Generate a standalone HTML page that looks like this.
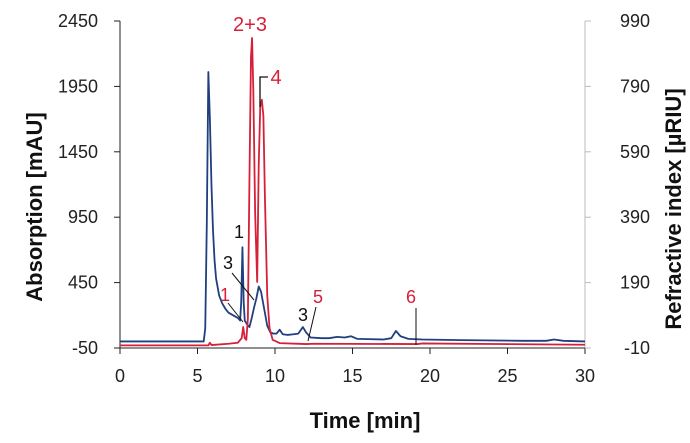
<!DOCTYPE html>
<html><head><meta charset="utf-8"><style>
body{margin:0;background:#fff}
svg text{font-family:"Liberation Sans",Arial,sans-serif}
</style></head><body>
<svg id="chart" width="690" height="438" viewBox="0 0 690 438" xmlns="http://www.w3.org/2000/svg">
<g id="axes"></g>
<g id="series"></g>
<g id="annot">
 <text x="250" y="31" fill="#d6203a" font-size="20" text-anchor="middle">2+3</text>
 <text x="276" y="84" fill="#d6203a" font-size="20" text-anchor="middle">4</text>
 <polyline points="268,77 260,77 260,107" fill="none" stroke="#111" stroke-width="1.3"/>
 <text x="239" y="238" fill="#111" font-size="18" text-anchor="middle">1</text>
 <text x="228" y="269" fill="#111" font-size="18" text-anchor="middle">3</text>
 <line x1="232" y1="273" x2="254" y2="300" stroke="#111" stroke-width="1"/>
 <text x="225" y="301" fill="#d6203a" font-size="18" text-anchor="middle">1</text>
 <line x1="228" y1="303" x2="243" y2="322" stroke="#111" stroke-width="1"/>
 <text x="303" y="321" fill="#111" font-size="18" text-anchor="middle">3</text>
 <text x="318" y="303" fill="#d6203a" font-size="18" text-anchor="middle">5</text>
 <line x1="316" y1="307" x2="308" y2="341" stroke="#111" stroke-width="1"/>
 <text x="411" y="303" fill="#d6203a" font-size="18" text-anchor="middle">6</text>
 <line x1="416" y1="308" x2="416" y2="345" stroke="#111" stroke-width="1"/>
</g>
</svg>
<script>
const xTicks=[0,5,10,15,20,25,30];
const leftTicks=[-50,450,950,1450,1950,2450];
const rightTicks=[-10,190,390,590,790,990];
const uvTime=[0,5.4,5.5,5.6,5.7,5.8,5.9,6.0,6.1,6.2,6.4,6.6,6.8,7.0,7.3,7.6,7.75,7.82,7.9,7.98,8.05,8.2,8.35,8.5,8.65,8.8,8.95,9.1,9.3,9.5,9.7,9.9,10.1,10.3,10.5,10.8,11.2,11.5,11.8,12.0,12.3,13,13.5,14.0,14.5,14.9,15.3,16,17,17.5,17.8,18.1,18.6,19.5,22,26,27.5,28,28.6,30];
const uvValue=[0,0,100,900,2060,1700,1200,850,620,480,350,290,250,220,200,180,160,300,720,300,160,130,110,180,260,330,420,380,250,120,70,60,60,90,55,50,55,60,110,70,30,25,25,35,30,40,20,18,15,25,80,40,20,15,10,5,5,15,5,0];
const riTime=[0,5.7,5.8,5.9,7.0,7.6,7.85,7.95,8.05,8.15,8.25,8.35,8.45,8.52,8.6,8.72,8.85,8.95,9.05,9.15,9.25,9.35,9.5,9.65,9.85,10.3,12,12.5,19.2,19.5,30];
const riValue=[-2,-2,6,-1,3,6,20,54,20,15,80,500,880,938,780,400,192,550,730,749,700,450,150,50,15,5,2,3,2,4,0];

const X0=120,X1=585,Y0=348,Y1=21;
const xs=t=>X0+(t-0)/(30-0)*(X1-X0);
const yl=v=>Y0-(v+50)/2500*(Y0-Y1);
const yr=v=>Y0-(v+10)/1000*(Y0-Y1);
const NS="http://www.w3.org/2000/svg";
function mk(tag,attrs,parent){const e=document.createElementNS(NS,tag);for(const k in attrs)e.setAttribute(k,attrs[k]);parent.appendChild(e);return e;}
const ax=document.getElementById('axes');
let e;
e=mk('line',{x1:X0,y1:Y1,x2:X0,y2:Y0,stroke:'#222','stroke-width':1},ax);


e=mk('line',{x1:X1,y1:Y1,x2:X1,y2:Y0,stroke:'#bbb','stroke-width':1},ax);


e=mk('line',{x1:X0,y1:Y0,x2:X1,y2:Y0,stroke:'#222','stroke-width':1},ax);


xTicks.forEach(t=>{
 const l=mk('line',{x1:xs(t),y1:Y0,x2:xs(t),y2:Y0+6,stroke:'#222'},ax);
 
 
 const tx=mk('text',{x:xs(t),y:Y0+34,'font-size':18,fill:'#222','text-anchor':'middle'},ax);tx.textContent=t;
 
 
});
leftTicks.forEach(v=>{
 const l=mk('line',{x1:X0-6,y1:yl(v),x2:X0,y2:yl(v),stroke:'#222'},ax);
 
 
 const tx=mk('text',{x:X0-22,y:yl(v)+6,'font-size':18,fill:'#222','text-anchor':'end'},ax);tx.textContent=v;
 
 
});
rightTicks.forEach(v=>{
 const l=mk('line',{x1:X1,y1:yr(v),x2:X1+6,y2:yr(v),stroke:'#bbb'},ax);
 
 
 const tx=mk('text',{x:X1+65,y:yr(v)+6,'font-size':18,fill:'#222','text-anchor':'end'},ax);tx.textContent=v;
 
 
});
let t1=mk('text',{x:0,y:0,'font-size':22,'font-weight':'bold',fill:'#111','text-anchor':'middle',transform:'translate(42,207) rotate(-90)'},ax);
t1.textContent='Absorption [mAU]';


let t2=mk('text',{x:0,y:0,'font-size':22,'font-weight':'bold',fill:'#111','text-anchor':'middle',transform:'translate(681,209) rotate(-90)'},ax);
t2.textContent='Refractive index [µRIU]';


let t3=mk('text',{x:365,y:428,'font-size':22,'font-weight':'bold',fill:'#111','text-anchor':'middle'},ax);
t3.textContent='Time [min]';



const sg=document.getElementById('series');
const p1=mk('polyline',{points:uvTime.map((t,i)=>xs(t)+','+yl(uvValue[i])).join(' '),fill:'none',stroke:'#1f3f7f','stroke-width':1.8,'stroke-linejoin':'round'},sg);


const p2=mk('polyline',{points:riTime.map((t,i)=>xs(t)+','+yr(riValue[i])).join(' '),fill:'none',stroke:'#d6203a','stroke-width':1.8,'stroke-linejoin':'round'},sg);


</script>
</body></html>
